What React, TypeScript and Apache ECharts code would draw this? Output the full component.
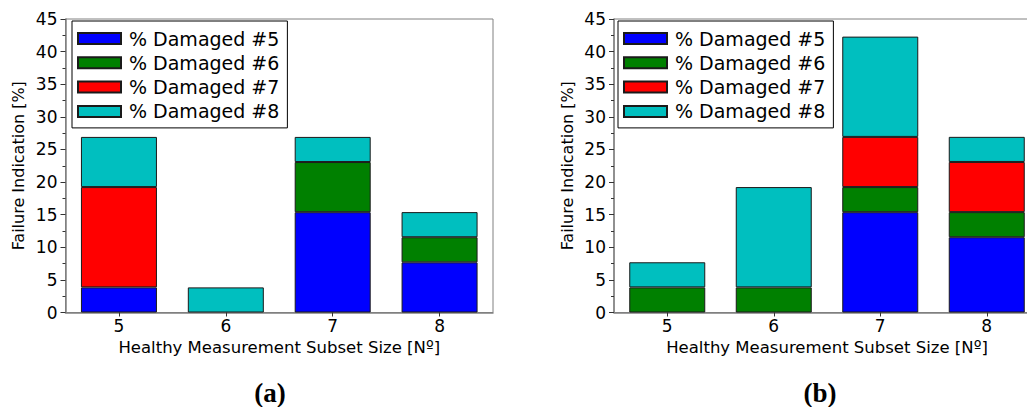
import React, { useEffect, useRef } from "react";
import * as echarts from "echarts";

const categories = ["5", "6", "7", "8"];
const seriesNames = ["% Damaged #5", "% Damaged #6", "% Damaged #7", "% Damaged #8"];
const seriesColors = ["#0000ff", "#008000", "#ff0000", "#00bfbf"];
const yTicksMax = 45;
const yInterval = 5;

// Panel (a)
const aDamaged5 = [3.85, null, 15.38, 7.69];
const aDamaged6 = [null, null, 7.69, 3.85];
const aDamaged7 = [15.38, null, null, null];
const aDamaged8 = [7.69, 3.85, 3.85, 3.85];

// Panel (b)
const bDamaged5 = [null, null, 15.38, 11.54];
const bDamaged6 = [3.85, 3.85, 3.85, 3.85];
const bDamaged7 = [null, null, 7.69, 7.69];
const bDamaged8 = [3.85, 15.38, 15.38, 3.85];

const panelLabels = ["(a)", "(b)"];

const FONT = "DejaVu Sans";
const AXIS_GRAY = "#808080";

export default function App() {
  const ref = useRef<HTMLDivElement>(null);
  useEffect(() => {
    if (!ref.current) return;
    const chart = echarts.init(ref.current, null, { renderer: "svg" });
    const panels = [
      [aDamaged5, aDamaged6, aDamaged7, aDamaged8],
      [bDamaged5, bDamaged6, bDamaged7, bDamaged8],
    ];
    const grids = [
      { left: 65.5, top: 19, width: 427.5, height: 293.5 },
      { left: 614, top: 19, width: 426, height: 293.5 },
    ];
    const legendLefts = [72, 618];
    const series: any[] = [];
    panels.forEach((panel, p) => {
      panel.forEach((vals, i) => {
        series.push({
          type: "bar",
          name: seriesNames[i],
          stack: "s" + p,
          xAxisIndex: p,
          yAxisIndex: p,
          barWidth: 76,
          data: vals.map((v) => (v == null ? "-" : v)),
          itemStyle: { color: seriesColors[i], borderColor: "#1a1a1a", borderWidth: 1 },
        });
      });
    });
    chart.setOption({
      animation: false,
      grid: grids.map((g) => ({ ...g, show: true, borderColor: AXIS_GRAY, borderWidth: 1, backgroundColor: "transparent" })),
      xAxis: grids.map((_, p) => ({
        type: "category",
        gridIndex: p,
        data: categories,
        name: "Healthy Measurement Subset Size [Nº]",
        nameLocation: "middle",
        nameGap: 25,
        nameTextStyle: { fontFamily: FONT, fontSize: 16.5, color: "#000" },
        axisLine: { lineStyle: { color: AXIS_GRAY, width: 1.5 } },
        axisTick: { show: true, alignWithLabel: true, length: 4, lineStyle: { color: "#333" } },
        axisLabel: { fontFamily: FONT, fontSize: 17, color: "#000", margin: 5 },
      })),
      yAxis: grids.map((_, p) => ({
        type: "value",
        gridIndex: p,
        min: 0,
        max: yTicksMax,
        interval: yInterval,
        name: "Failure Indication [%]",
        nameLocation: "middle",
        nameGap: 39,
        nameTextStyle: { fontFamily: FONT, fontSize: 16, color: "#000" },
        axisLine: { show: true, lineStyle: { color: AXIS_GRAY, width: 1.5 } },
        axisTick: { show: true, length: 5, lineStyle: { color: "#333" } },
        minorTick: { show: true, splitNumber: 2, length: 3, lineStyle: { color: "#333" } },
        splitLine: { show: false },
        axisLabel: { fontFamily: FONT, fontSize: 17, color: "#000", margin: 8 },
      })),
      legend: legendLefts.map((l) => ({
        orient: "vertical",
        left: l,
        top: 21,
        data: seriesNames,
        icon: "rect",
        itemWidth: 43,
        itemHeight: 11,
        itemGap: 5.3,
        padding: [8, 8, 7, 5],
        borderColor: "#000",
        borderWidth: 1,
        backgroundColor: "#fff",
        selectedMode: false,
        textStyle: { fontFamily: FONT, fontSize: 19, color: "#000", lineHeight: 18, padding: [0, 0, 0, 3] },
      })),
      graphic: panelLabels.map((t, i) => ({
        type: "text",
        x: i === 0 ? 270 : 820,
        y: 393,
        style: {
          text: t,
          font: "bold 27px 'Liberation Serif'",
          fill: "#000",
          align: "center",
          verticalAlign: "middle",
        },
      })),
      series,
    });
    return () => chart.dispose();
  }, []);
  return (
    <div style={{ position: "absolute", left: 0, top: 0, width: 1027, height: 407, overflow: "hidden", background: "#fff" }}>
      <div ref={ref} style={{ width: 1060, height: 407 }} />
    </div>
  );
}
